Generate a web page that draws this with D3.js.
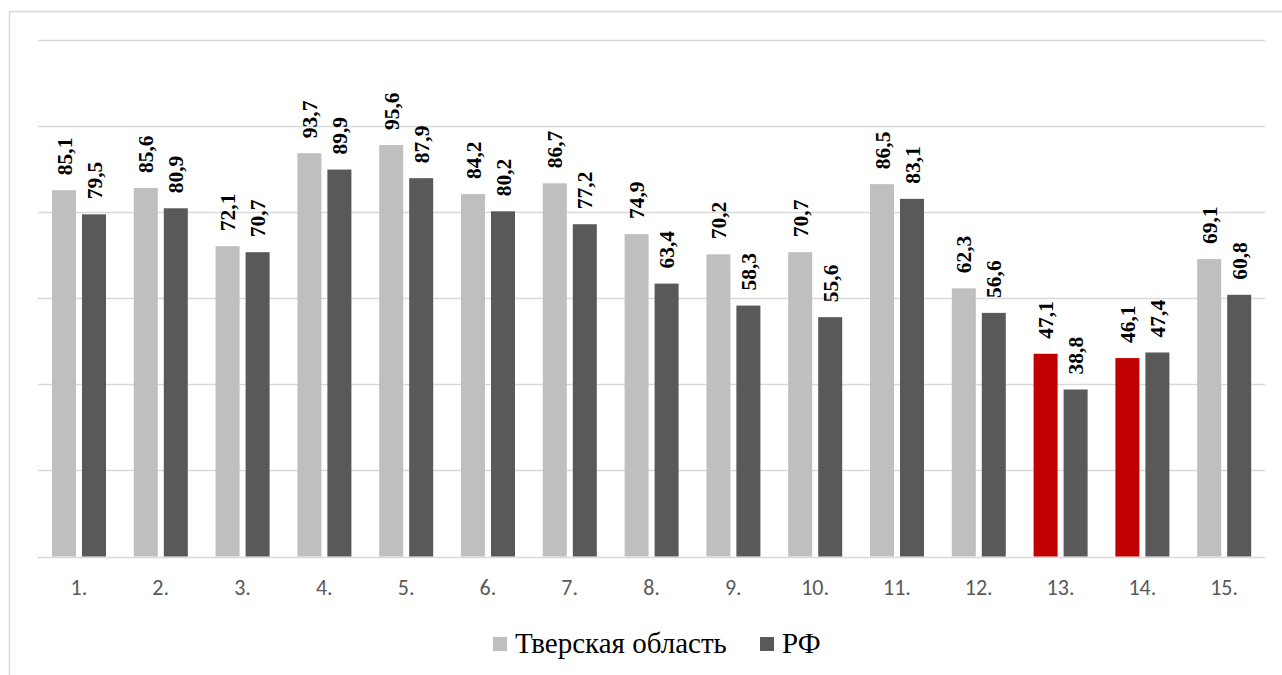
<!DOCTYPE html>
<html>
<head>
<meta charset="utf-8">
<script src="https://cdn.jsdelivr.net/npm/d3@7"></script>
</head>
<body style="margin:0">
<svg id="chart" width="1282" height="675"></svg>
<script>
// Indicator numbers along the horizontal axis
const categories = ["1.", "2.", "3.", "4.", "5.", "6.", "7.", "8.", "9.", "10.", "11.", "12.", "13.", "14.", "15."];
// Values for the Tver region and for the Russian Federation
const tverValues = [85.1, 85.6, 72.1, 93.7, 95.6, 84.2, 86.7, 74.9, 70.2, 70.7, 86.5, 62.3, 47.1, 46.1, 69.1];
const rfValues = [79.5, 80.9, 70.7, 89.9, 87.9, 80.2, 77.2, 63.4, 58.3, 55.6, 83.1, 56.6, 38.8, 47.4, 60.8];
// Indicators where the region is highlighted
const highlighted = ["13.", "14."];
const seriesNames = ["Тверская область", "РФ"];
const yTicks = [0, 20, 40, 60, 80, 100, 120];

const colors = { tver: "#BFBFBF", rf: "#595959", alert: "#C00000", grid: "#D9D9D9" };
const SERIF = "\"Liberation Serif\"";
const SANS = "\"Carlito\"";

const svg = d3.select("#chart");

// Outer chart frame
svg.append("path")
  .attr("d", "M9.5,675 V11.5 H1290")
  .attr("fill", "none")
  .attr("stroke", colors.grid)
  .attr("stroke-width", 1.5);

const plot = { left: 38, right: 1265, top: 40, bottom: 556.5 };

const x = d3.scaleBand().domain(categories).range([plot.left, plot.right]).padding(0);
const xs = d3.scaleBand().domain(["tver", "rf"]).range([14, 68]).paddingInner(0.2);
const y = d3.scaleLinear().domain([0, 120]).range([plot.bottom, plot.top]);

// Horizontal gridlines
svg.append("g")
  .selectAll("line")
  .data(yTicks)
  .join("line")
  .attr("x1", plot.left)
  .attr("x2", plot.right)
  .attr("y1", d => Math.round(y(d)) + 0.5)
  .attr("y2", d => Math.round(y(d)) + 0.5)
  .attr("stroke", colors.grid)
  .attr("stroke-width", 1.5);

const rows = categories.map((c, i) => ({ cat: c, tver: tverValues[i], rf: rfValues[i] }));

const groups = svg.append("g")
  .selectAll("g")
  .data(rows)
  .join("g")
  .attr("transform", d => `translate(${x(d.cat)},0)`);

const bars = groups.selectAll("g.bar")
  .data(d => ["tver", "rf"].map(k => ({ key: k, value: d[k], cat: d.cat })))
  .join("g")
  .attr("class", "bar");

bars.append("rect")
  .attr("x", d => xs(d.key))
  .attr("width", xs.bandwidth())
  .attr("y", d => y(d.value))
  .attr("height", d => y(0) - y(d.value))
  .attr("fill", d => d.key === "rf" ? colors.rf : (highlighted.includes(d.cat) ? colors.alert : colors.tver));

// Rotated value labels above each bar
bars.append("text")
  .attr("transform", d => `translate(${xs(d.key) + xs.bandwidth() / 2},${y(d.value) - 15}) rotate(-90)`)
  .attr("dy", "0.35em")
  .attr("text-anchor", "start")
  .style("font-family", SERIF)
  .style("font-weight", "bold")
  .style("font-size", "21.5px")
  .style("fill", "#000")
  .text(d => d3.format(".1f")(d.value).replace(".", ","));

// Category labels
const xAxis = svg.append("g")
  .attr("transform", `translate(0,${plot.bottom})`)
  .call(d3.axisBottom(x).tickSize(0).tickPadding(23));
xAxis.select(".domain").remove();
xAxis.selectAll("text")
  .style("font-family", SANS)
  .style("font-size", "22px")
  .style("fill", "#595959");

// Legend
const legend = svg.append("g").attr("transform", "translate(0,644)");
const legendItems = [
  { name: seriesNames[0], color: colors.tver, x: 493 },
  { name: seriesNames[1], color: colors.rf, x: 760 }
];
const li = legend.selectAll("g").data(legendItems).join("g")
  .attr("transform", d => `translate(${d.x},0)`);
li.append("rect")
  .attr("x", 0).attr("y", -7).attr("width", 14).attr("height", 14)
  .attr("fill", d => d.color);
li.append("text")
  .attr("x", 22)
  .attr("y", 9)
  .style("font-family", SERIF)
  .style("font-size", "29px")
  .style("fill", "#000")
  .text(d => d.name);
</script>
</body>
</html>
